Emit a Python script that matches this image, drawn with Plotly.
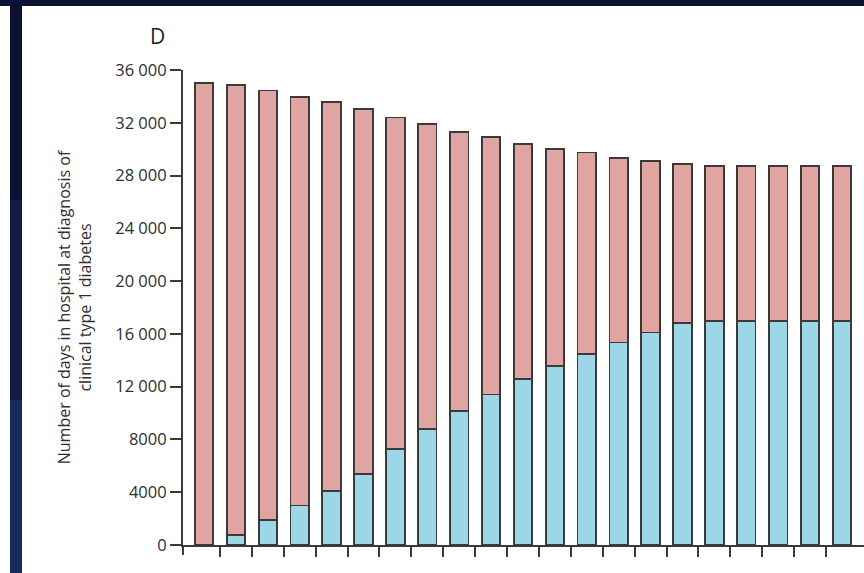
import plotly.graph_objects as go

# Hospital days at diagnosis of clinical type 1 diabetes, per period
periods = [1, 2, 3, 4, 5, 6, 7, 8, 9, 10, 11, 12, 13, 14, 15, 16, 17, 18, 19, 20, 21]

# lower (blue) segment of each stacked bar
days_blue = [0, 750, 1900, 3000, 4100, 5400, 7250, 8800, 10150, 11400, 12600,
             13550, 14450, 15350, 16100, 16800, 17000, 17000, 17000, 17000, 17000]

# upper (pink) segment of each stacked bar
days_pink = [35000, 34100, 32550, 30950, 29450, 27650, 25150, 23100, 21150, 19500, 17800,
             16450, 15300, 14000, 13000, 12050, 11700, 11700, 11700, 11700, 11700]

y_ticks = [0, 4000, 8000, 12000, 16000, 20000, 24000, 28000, 32000, 36000]
y_tick_text = ["0", "4000", "8000", "12 000", "16 000", "20 000",
               "24 000", "28 000", "32 000", "36 000"]

W, H = 864, 573
M_L, M_R, M_T, M_B = 183, 0, 70, 28
PLOT_W = W - M_L - M_R
PLOT_H = H - M_T - M_B


def px_x(px):
    return (px - M_L) / PLOT_W


def px_y(py):
    return (H - M_B - py) / PLOT_H


FONT = "Open Sans"
INK = "#2e2e2e"
EDGE = "#3a3a3a"
PINK = "#E0A4A1"
BLUE = "#9DD6E7"

fig = go.Figure()
fig.add_trace(go.Bar(
    x=periods, y=days_blue, width=0.58,
    marker=dict(color=BLUE, line=dict(color=EDGE, width=1.8)),
    hoverinfo="y", showlegend=False,
))
fig.add_trace(go.Bar(
    x=periods, y=days_pink, width=0.58,
    marker=dict(color=PINK, line=dict(color=EDGE, width=1.8)),
    hoverinfo="y", showlegend=False,
))

# dark frame along top and left edge of the page
shapes = [
    dict(type="rect", xref="paper", yref="paper", layer="above",
         x0=px_x(0), x1=px_x(W), y0=px_y(6), y1=px_y(0),
         fillcolor="#0b1130", line=dict(width=0)),
    dict(type="rect", xref="paper", yref="paper", layer="above",
         x0=px_x(10), x1=px_x(22), y0=px_y(200), y1=px_y(0),
         fillcolor="#0b1130", line=dict(width=0)),
    dict(type="rect", xref="paper", yref="paper", layer="above",
         x0=px_x(10), x1=px_x(22), y0=px_y(400), y1=px_y(200),
         fillcolor="#101c44", line=dict(width=0)),
    dict(type="rect", xref="paper", yref="paper", layer="above",
         x0=px_x(10), x1=px_x(22), y0=px_y(H), y1=px_y(400),
         fillcolor="#172a5a", line=dict(width=0)),
    # y-axis line continues a little below the baseline
    dict(type="line", xref="paper", yref="paper", layer="above",
         x0=0, x1=0, y0=0, y1=px_y(555),
         line=dict(color=EDGE, width=2)),
]

fig.update_layout(
    width=W, height=H,
    margin=dict(l=M_L, r=M_R, t=M_T, b=M_B, pad=0),
    paper_bgcolor="white", plot_bgcolor="white",
    barmode="stack",
    font=dict(family=FONT, color=INK),
    shapes=shapes,
    annotations=[dict(
        text="D", xref="paper", yref="paper",
        x=px_x(157), y=px_y(36), xanchor="center", yanchor="middle",
        showarrow=False, font=dict(family=FONT, size=21, color="#222222"),
    )],
    xaxis=dict(
        range=[periods[0] - 0.66, periods[-1] + 0.69],
        tickmode="array", tickvals=[p + 0.5 for p in periods[:-1]],
        showticklabels=False, ticks="outside", ticklen=10, tickwidth=2, tickcolor=EDGE,
        showline=True, linecolor=EDGE, linewidth=2,
        showgrid=False, zeroline=False, fixedrange=True,
    ),
    yaxis=dict(
        range=[0, 36000],
        tickmode="array", tickvals=y_ticks, ticktext=y_tick_text,
        tickfont=dict(family=FONT, size=16.5, color=INK),
        ticks="outside", ticklen=11, tickwidth=2, tickcolor=EDGE,
        showline=True, linecolor=EDGE, linewidth=2,
        showgrid=False, zeroline=False, fixedrange=True,
        title=dict(
            text="Number of days in hospital at diagnosis of<br>clinical type 1 diabetes",
            font=dict(family=FONT, size=16, color=INK), standoff=20,
        ),
    ),
)

fig.write_html("out.html")
